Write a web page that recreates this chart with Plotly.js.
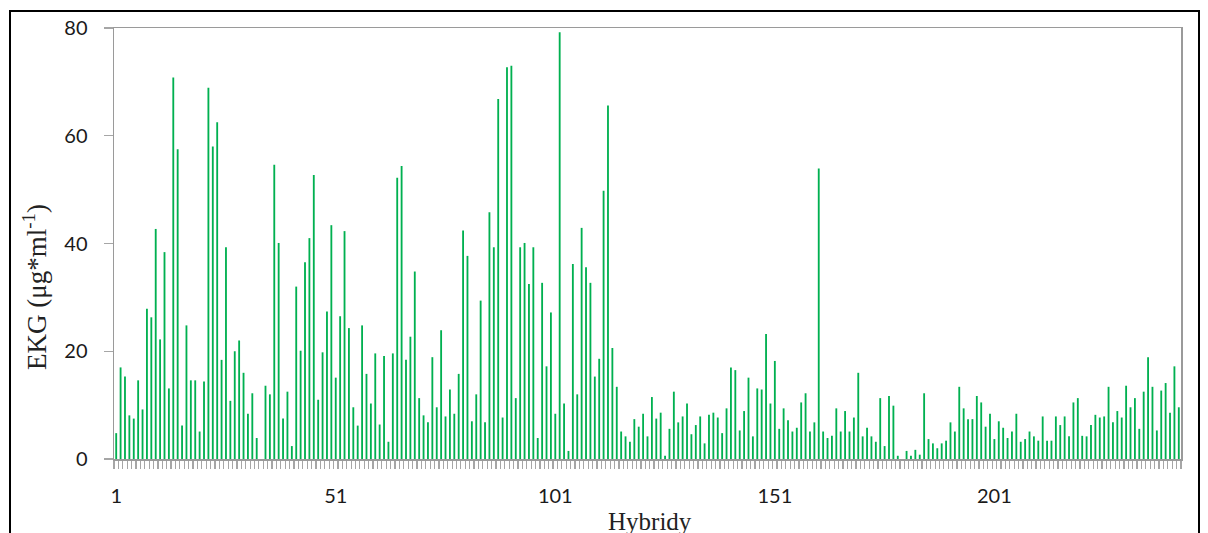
<!DOCTYPE html>
<html>
<head>
<meta charset="utf-8">
<script src="https://cdn.plot.ly/plotly-3.0.1.min.js"></script>
<style>
  html, body { margin: 0; padding: 0; background: #ffffff; overflow: hidden; }
  #chart { width: 1208px; height: 533px; }
</style>
</head>
<body>
<div id="chart"></div>
<script>
// EKG values per hybrid (µg*ml-1)
const ekgValues = [
  4.8, 17.0, 15.3, 8.1, 7.5, 14.6, 9.2, 27.9, 26.3, 42.7,
  22.2, 38.4, 13.1, 70.8, 57.5, 6.2, 24.8, 14.6, 14.6, 5.1,
  14.4, 68.9, 58.0, 62.5, 18.4, 39.3, 10.8, 20.0, 22.0, 16.0,
  8.4, 12.2, 3.9, -0.3, 13.6, 12.0, 54.6, 40.1, 7.5, 12.5,
  2.4, 32.0, 20.1, 36.5, 41.0, 52.7, 11.0, 19.8, 27.4, 43.4,
  15.1, 26.5, 42.3, 24.3, 9.6, 6.2, 24.8, 15.8, 10.3, 19.6,
  6.4, 19.1, 3.2, 19.6, 52.2, 54.4, 18.4, 22.7, 34.8, 11.3,
  8.1, 6.8, 18.9, 9.6, 23.9, 7.9, 12.9, 8.4, 15.8, 42.4,
  37.7, 7.0, 12.0, 29.4, 6.8, 45.8, 39.3, 66.8, 7.7, 72.7,
  73.0, 11.3, 39.3, 40.1, 32.5, 39.3, 3.9, 32.7, 17.2, 27.2,
  8.4, 79.2, 10.3, 1.5, 36.2, 12.0, 42.9, 35.6, 32.7, 15.3,
  18.6, 49.8, 65.6, 20.6, 13.4, 5.1, 4.2, 3.2, 7.4, 6.0,
  8.4, 4.2, 11.5, 7.5, 8.6, 0.6, 5.6, 12.5, 6.8, 7.9,
  10.3, 4.6, 6.3, 7.9, 2.9, 8.2, 8.6, 7.7, 4.8, 9.4,
  17.0, 16.5, 5.3, 8.9, 15.1, 4.2, 13.1, 12.9, 23.2, 10.3,
  18.2, 5.6, 9.4, 7.2, 5.1, 5.8, 10.5, 12.2, 5.1, 6.8,
  53.9, 5.1, 3.9, 4.3, 9.4, 5.1, 8.9, 5.1, 7.7, 16.0,
  4.2, 5.8, 4.2, 3.2, 11.3, 2.4, 11.7, 9.9, 0.6, 0.0,
  1.5, 0.6, 1.7, 0.8, 12.2, 3.7, 2.9, 2.0, 2.9, 3.4,
  6.8, 5.1, 13.4, 9.4, 7.4, 7.4, 11.7, 10.5, 6.0, 8.4,
  3.7, 7.0, 5.8, 3.9, 5.1, 8.4, 3.2, 3.7, 5.1, 4.2,
  3.4, 7.9, 3.4, 3.4, 7.9, 6.3, 7.9, 4.2, 10.5, 11.3,
  4.3, 4.2, 6.3, 8.2, 7.7, 7.9, 13.4, 6.8, 8.9, 7.7,
  13.6, 9.6, 11.3, 5.6, 12.5, 18.9, 13.4, 5.3, 12.7, 14.1,
  8.6, 17.2, 9.6
];
// Hybrid numbers (categories 1..N)
const hybrids = ekgValues.map((v, i) => i + 1);
const xTickVals = [1, 51, 101, 151, 201];
const yTickVals = [0, 20, 40, 60, 80];
const xTitle = 'Hybridy';
const yTitle = 'EKG (μg*ml<sup>-1</sup>)';

const W = 1208, H = 533;
const M = { l: 114, r: 27, t: 28, b: 74 };
const pw = W - M.l - M.r, ph = H - M.t - M.b;
const px = (x) => (x - M.l) / pw;
const py = (y) => (H - M.b - y) / ph;

const trace = {
  type: 'bar',
  x: hybrids,
  y: ekgValues,
  width: 0.42,
  marker: { color: '#00b050', line: { width: 0 } },
  hoverinfo: 'x+y'
};

const axisLine = '#9a9a9a';
const tickFont = { family: 'Lato, "DejaVu Sans", sans-serif', size: 20, color: '#1a1a1a' };
const titleFontFamily = '"Liberation Serif", "Times New Roman", serif';
const layout = {
  width: W, height: H,
  margin: M,
  paper_bgcolor: '#ffffff',
  plot_bgcolor: '#ffffff',
  showlegend: false,
  xaxis: {
    type: 'linear',
    range: [0.5, hybrids.length + 0.5],
    tickmode: 'array',
    tickvals: xTickVals,
    ticktext: xTickVals.map(String),
    ticks: '',
    showgrid: false,
    zeroline: false,
    showline: true, linecolor: axisLine, linewidth: 1.5, mirror: true,
    minor: { tickmode: 'linear', tick0: 0.5, dtick: 1, ticks: 'outside', ticklen: 8, tickwidth: 1.2, tickcolor: '#a6a6a6', showgrid: false },
    tickfont: tickFont,
    ticklabelstandoff: 18
  },
  yaxis: {
    range: [0, 80],
    tickmode: 'array',
    tickvals: yTickVals,
    ticks: 'outside', ticklen: 9, tickwidth: 1.2, tickcolor: '#a6a6a6',
    showgrid: false,
    zeroline: false,
    showline: true, linecolor: axisLine, linewidth: 1.5, mirror: true,
    tickfont: tickFont,
    ticklabelstandoff: 12
  },
  annotations: [
    { xref: 'paper', yref: 'paper', x: px(650), y: py(521), xanchor: 'center', yanchor: 'middle',
      text: xTitle, showarrow: false,
      font: { family: titleFontFamily, size: 25, color: '#222222' } },
    { xref: 'paper', yref: 'paper', x: px(35), y: py(287), xanchor: 'center', yanchor: 'middle',
      text: yTitle, textangle: -90, showarrow: false,
      font: { family: titleFontFamily, size: 27, color: '#222222' } }
  ],
  shapes: [
    { type: 'rect', xref: 'paper', yref: 'paper',
      x0: px(10), x1: px(1199), y0: py(600), y1: py(11),
      line: { color: '#000000', width: 2 }, fillcolor: 'rgba(0,0,0,0)', layer: 'above' }
  ]
};

Plotly.newPlot('chart', [trace], layout, { displayModeBar: false, staticPlot: true });
</script>
</body>
</html>
